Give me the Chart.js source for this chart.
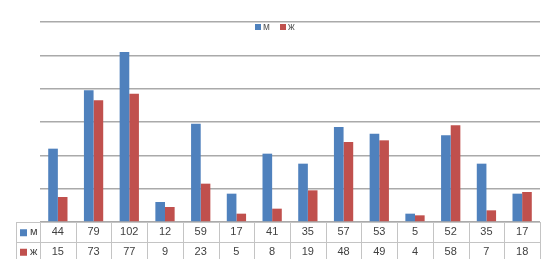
<!DOCTYPE html>
<html>
<head>
<meta charset="utf-8">
<script src="https://cdn.jsdelivr.net/npm/chart.js@4"></script>
<style>
  html, body { margin: 0; padding: 0; background: #fff; }
  #wrap { width: 552px; height: 259px; }
</style>
</head>
<body>
<div id="wrap"><canvas id="chart" width="552" height="259"></canvas></div>
<script>
const categories = ['1', '2', '3', '4', '5', '6', '7', '8', '9', '10', '11', '12', '13', '14'];
const seriesNames = ['м', 'ж'];
const maleValues = [44, 79, 102, 12, 59, 17, 41, 35, 57, 53, 5, 52, 35, 17];
const femaleValues = [15, 73, 77, 9, 23, 5, 8, 19, 48, 49, 4, 58, 7, 18];
const yTicks = [0, 20, 40, 60, 80, 100, 120];

const colors = ['#4f81bd', '#c0504d'];
const textFont = '11px "Liberation Sans", Arial, sans-serif';

// data table under the plot + small legend at the top, like the Excel original
const tablePlugin = {
  id: 'dataTable',
  afterDraw(chart) {
    const { ctx, chartArea, scales } = chart;
    const x = scales.x;
    const step = x.getPixelForValue(1) - x.getPixelForValue(0);
    const top = chartArea.bottom;
    const rowH = 19.5;
    const left = 16;
    const right = chartArea.right;
    const rows = [maleValues, femaleValues];

    ctx.save();
    ctx.strokeStyle = '#c4c4c4';
    ctx.lineWidth = 1;
    ctx.beginPath();
    for (let r = 0; r <= 2; r++) {
      const y = Math.round(top + r * rowH) + 0.5;
      ctx.moveTo(left, y);
      ctx.lineTo(right, y);
    }
    const xs = [left];
    categories.forEach((c, i) => xs.push(x.getPixelForValue(i) - step / 2));
    xs.push(right);
    xs.forEach(px => {
      ctx.moveTo(Math.round(px) + 0.5, top);
      ctx.lineTo(Math.round(px) + 0.5, top + rowH * 2 + 4);
    });
    ctx.stroke();

    ctx.font = textFont;
    ctx.textBaseline = 'middle';
    rows.forEach((vals, r) => {
      const cy = top + r * rowH + rowH / 2 + 0.5;
      ctx.fillStyle = colors[r];
      ctx.fillRect(20, cy - 3, 7, 7);
      ctx.fillStyle = '#404040';
      ctx.textAlign = 'left';
      ctx.fillText(seriesNames[r], 30, cy);
      ctx.textAlign = 'center';
      vals.forEach((v, i) => ctx.fillText(String(v), x.getPixelForValue(i), cy));
    });

    // legend
    ctx.font = '10px "Liberation Sans", Arial, sans-serif';
    ctx.textAlign = 'left';
    const ly = 27;
    [[255, 0], [280, 1]].forEach(([lx, s]) => {
      ctx.fillStyle = colors[s];
      ctx.fillRect(lx, ly - 3, 6, 6);
      ctx.fillStyle = '#595959';
      ctx.fillText(seriesNames[s], lx + 8, ly);
    });
    ctx.restore();
  },
};

new Chart(document.getElementById('chart'), {
  type: 'bar',
  data: {
    labels: categories,
    datasets: [
      { label: seriesNames[0], data: maleValues, backgroundColor: colors[0] },
      { label: seriesNames[1], data: femaleValues, backgroundColor: colors[1] },
    ],
  },
  options: {
    responsive: false,
    animation: false,
    events: [],
    layout: { padding: { left: 40, right: 12, top: 22, bottom: 37 } },
    datasets: { bar: { categoryPercentage: 0.54, barPercentage: 1 } },
    plugins: { legend: { display: false }, tooltip: { enabled: false } },
    scales: {
      x: { display: false },
      y: {
        min: yTicks[0],
        max: yTicks[yTicks.length - 1],
        afterBuildTicks: axis => { axis.ticks = yTicks.map(v => ({ value: v })); },
        ticks: { display: false },
        border: { display: false },
        grid: { color: '#aaaaaa', lineWidth: 1.5, drawTicks: false },
      },
    },
  },
  plugins: [tablePlugin],
});
</script>
</body>
</html>
